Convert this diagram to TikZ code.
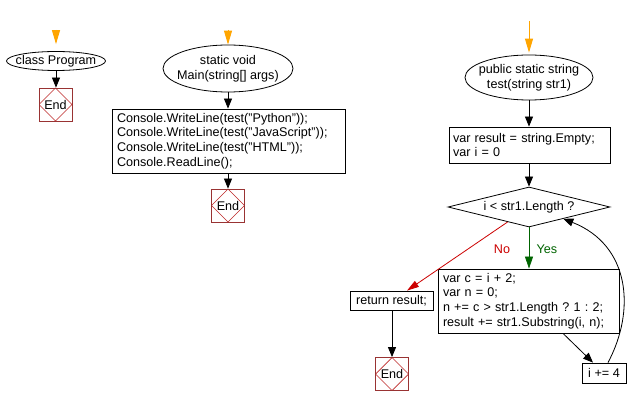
\documentclass[tikz,border=0pt]{standalone}
\usepackage{fontspec}
\setmainfont{Liberation Sans}
\usetikzlibrary{shapes.geometric,arrows.meta,calc}
\definecolor{orangearr}{RGB}{255,165,0}
\definecolor{endborder}{RGB}{153,51,51}
\definecolor{endred}{RGB}{190,40,40}
\definecolor{yesgreen}{RGB}{0,100,0}
\definecolor{nored}{RGB}{204,0,0}
\frenchspacing
\begin{document}
\begin{tikzpicture}[x=1pt,y=-1pt,
  txt/.style={font=\fontsize{12.6}{14.7}\selectfont},
  startell/.style={txt, draw, ellipse, line width=0.8pt, inner xsep=-10pt, inner ysep=0pt, align=center},
  codebox/.style={txt, draw, rectangle, line width=0.8pt, align=left, inner xsep=5pt, inner ysep=0pt},
  plainbox/.style={txt, draw, rectangle, line width=0.8pt, inner sep=0pt},
  endbox/.style={txt, draw=endborder, line width=0.8pt, minimum size=33pt, inner sep=0pt,
    path picture={\draw[endred, line width=0.7pt] (path picture bounding box.north) -- (path picture bounding box.east) -- (path picture bounding box.south) -- (path picture bounding box.west) -- cycle;}},
  arr/.style={-{Triangle[length=10pt,width=8pt]}, line width=0.8pt},
  startarr/.style={orangearr, line width=1pt, -{Triangle[length=14pt,width=8pt]}},
]
\path[use as bounding box, fill=white] (0,0) rectangle (640,406);

% class Program
\node[startell, minimum width=99pt, minimum height=19pt] (cls) at (56,61) {class Program};
\node[endbox] (end1) at (55.5,104.5) {End};
\coordinate (s1) at (56,30);
\draw[startarr] (s1) -- ([yshift=7pt]cls.north);
\draw[arr] (cls.south) -- (cls.south |- end1.north);

% Main
\node[startell, minimum width=130pt, minimum height=47pt] (mainell) at (228,68.5) {static void\\Main(string[] args)};
\coordinate (s2) at (228,30);
\draw[startarr] (s2) -- (mainell.north);
\node[codebox, text width=223pt, minimum height=64pt] (mainbox) at (228.5,141) {Console.WriteLine(test("Python"));\\Console.WriteLine(test("JavaScript"));\\Console.WriteLine(test("HTML"));\\Console.ReadLine();};
\node[endbox] (end2) at (228,205.5) {End};
\draw[arr] (mainell.south) -- (mainell.south |- mainbox.north);
\draw[arr] (mainbox.south -| end2.north) -- (end2.north);

% test
\node[startell, minimum width=128pt, minimum height=45pt] (testell) at (529,77.5) {public static string\\test(string str1)};
\coordinate (s3) at (529,21);
\draw[startarr] (s3) -- ([yshift=2pt]testell.north);
\node[codebox, inner xsep=4pt, text width=153pt, minimum height=36pt] (initbox) at (529.5,145) {var result = string.Empty;\\var i = 0};
\node[txt, draw, diamond, aspect=4, minimum width=162pt, minimum height=40pt, inner sep=0pt, line width=0.8pt] (cond) at (529,207) {i < str1.Length ?};
\node[codebox, text width=171pt, minimum height=64pt] (loop) at (528.5,301) {var c = i + 2;\\var n = 0;\\n += c > str1.Length ? 1 : 2;\\result += str1.Substring(i, n);};
\node[plainbox, minimum width=83pt, minimum height=19pt] (ret) at (391.5,300.5) {return result;};
\node[endbox] (end3) at (392,374) {End};
\node[plainbox, minimum width=44pt, minimum height=20pt] (inc) at (604,373) {i += 4};

\node[txt, text=nored] (nolbl) at (502,249) {No};
\node[txt, text=yesgreen] (yeslbl) at (547,249) {Yes};

\draw[arr] (testell.south) -- (testell.south |- initbox.north);
\draw[arr] (initbox.south -| cond.north) -- (cond.north);
\draw[line width=0.8pt, nored, -{Triangle[length=12pt,width=7pt]}] (cond.215) -- ([xshift=15.5pt]ret.north);
\draw[line width=0.8pt, yesgreen, -{Triangle[length=12pt,width=8pt]}] (cond.south) -- (cond.south |- loop.north);
\draw[arr] ([xshift=34.5pt]loop.south) -- ([xshift=-11pt]inc.north);
\draw[arr] ([xshift=4pt]inc.north) .. controls (636,310) and (630,245) .. (cond.-19);
\draw[arr] (ret.south -| end3.north) -- (end3.north);
\end{tikzpicture}
\end{document}
